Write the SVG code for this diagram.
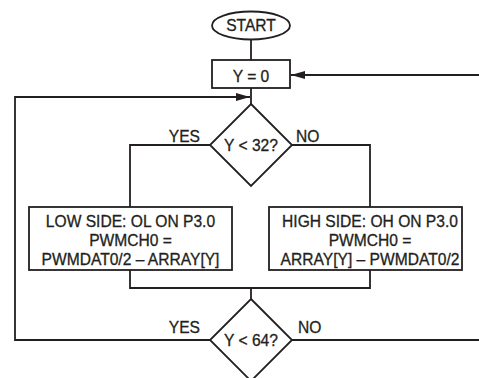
<svg xmlns="http://www.w3.org/2000/svg" width="479" height="378" viewBox="0 0 479 378">
<style>
.s{fill:#fff;stroke:#231f20;stroke-width:1.8}
.c{fill:none;stroke:#231f20;stroke-width:1.8}
text{font-family:"Liberation Sans",Arial,sans-serif;font-size:15.6px;fill:#231f20;stroke:#231f20;stroke-width:0.3}
.m{text-anchor:middle}
</style>
<defs>
<marker id="ah" markerWidth="14" markerHeight="10" refX="14" refY="5" orient="auto" markerUnits="userSpaceOnUse">
<path d="M0,1 L14,5 L0,9 Z" fill="#231f20"/>
</marker>
</defs>
<g id="connectors">
<path class="c" d="M251,39 V60"/>
<path class="c" d="M251,88 V104"/>
<path class="c" d="M479,75 H291" marker-end="url(#ah)"/>
<path class="c" d="M210,340 H15 V97 H250" marker-end="url(#ah)"/>
<path class="c" d="M210,145 H130 V207"/>
<path class="c" d="M292,145 H370 V207"/>
<path class="c" d="M130,270 V288 H370 V270"/>
<path class="c" d="M251,288 V299"/>
<path class="c" d="M292,340 H479"/>
<text x="200" y="142" text-anchor="end">YES</text>
<text x="296" y="142">NO</text>
<text x="200" y="333" text-anchor="end">YES</text>
<text x="298" y="333">NO</text>
</g>
<g id="start">
<ellipse class="s" cx="251" cy="25.5" rx="39" ry="14"/>
<text class="m" x="251" y="31">START</text>
</g>
<g id="init">
<rect class="s" x="212" y="60" width="78" height="28"/>
<text class="m" x="251" y="81.5">Y = 0</text>
</g>
<g id="dec32">
<path class="s" d="M251,104 L292,145 L251,186 L210,145 Z"/>
<text class="m" x="251" y="150.5">Y &lt; 32?</text>
</g>
<g id="lowside">
<rect class="s" x="29" y="207" width="203" height="63"/>
<text class="m" x="130.5" y="226.5">LOW SIDE: OL ON P3.0</text>
<text class="m" x="130.5" y="246">PWMCH0 =</text>
<text class="m" x="130.5" y="265">PWMDAT0/2 – ARRAY[Y]</text>
</g>
<g id="highside">
<rect class="s" x="269" y="207" width="193" height="63"/>
<text class="m" x="370" y="226.5">HIGH SIDE: OH ON P3.0</text>
<text class="m" x="370" y="246">PWMCH0 =</text>
<text class="m" x="370" y="265">ARRAY[Y] – PWMDAT0/2</text>
</g>
<g id="dec64">
<path class="s" d="M251,299 L292,340 L251,381 L210,340 Z"/>
<text class="m" x="251" y="345.5">Y &lt; 64?</text>
</g>
</svg>
